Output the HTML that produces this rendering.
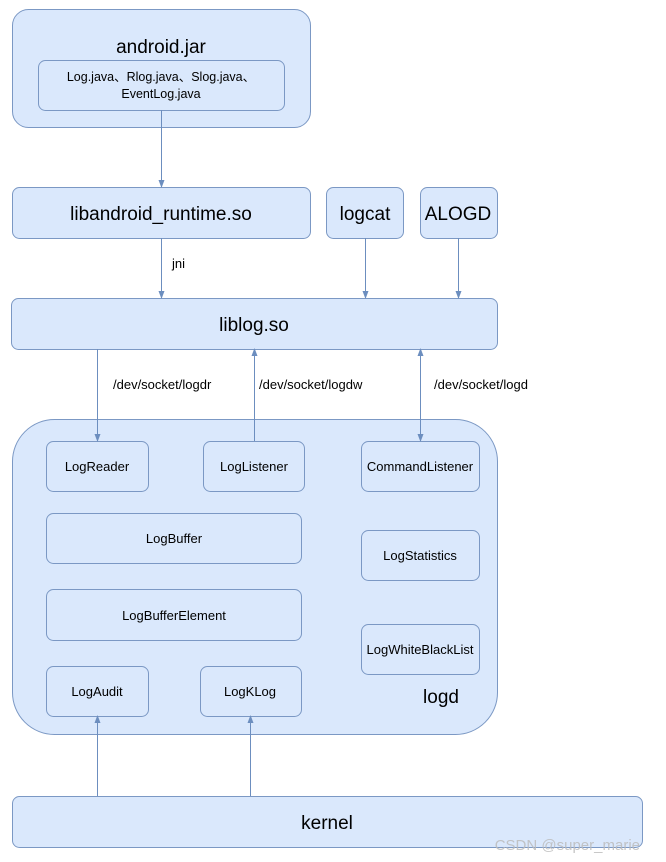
<!DOCTYPE html>
<html><head><meta charset="utf-8"><style>html,body{margin:0;padding:0;background:#fff}svg{display:block}</style></head>
<body>
<svg width="666" height="862" viewBox="0 0 666 862" xmlns="http://www.w3.org/2000/svg" font-family="'Liberation Sans','Noto Sans CJK SC',sans-serif">
<defs><marker id="a" markerWidth="8" markerHeight="8" refX="7" refY="4" orient="auto-start-reverse" markerUnits="userSpaceOnUse"><path d="M0,1 L8,4 L0,7 Z" fill="#6c8ebf"/></marker></defs>
<g fill="#dae8fc" stroke="#7b98c4" stroke-width="1">
<rect x="12.5" y="9.5" width="298" height="118" rx="16"/>
<rect x="38.5" y="60.5" width="246" height="50" rx="7"/>
<rect x="12.5" y="187.5" width="298" height="51" rx="7"/>
<rect x="326.5" y="187.5" width="77" height="51" rx="7"/>
<rect x="420.5" y="187.5" width="77" height="51" rx="7"/>
<rect x="11.5" y="298.5" width="486" height="51" rx="7"/>
<rect x="12.5" y="419.5" width="485" height="315" rx="42"/>
<rect x="46.5" y="441.5" width="102" height="50" rx="7"/>
<rect x="203.5" y="441.5" width="101" height="50" rx="7"/>
<rect x="361.5" y="441.5" width="118" height="50" rx="7"/>
<rect x="46.5" y="513.5" width="255" height="50" rx="7"/>
<rect x="361.5" y="530.5" width="118" height="50" rx="7"/>
<rect x="46.5" y="589.5" width="255" height="51" rx="7"/>
<rect x="361.5" y="624.5" width="118" height="50" rx="7"/>
<rect x="46.5" y="666.5" width="102" height="50" rx="7"/>
<rect x="200.5" y="666.5" width="101" height="50" rx="7"/>
<rect x="12.5" y="796.5" width="630" height="51" rx="7"/>
</g>
<g stroke="#6c8ebf" stroke-width="1" fill="none">
<line x1="161.5" y1="110" x2="161.5" y2="187" marker-end="url(#a)"/>
<line x1="161.5" y1="238" x2="161.5" y2="298" marker-end="url(#a)"/>
<line x1="365.5" y1="238" x2="365.5" y2="298" marker-end="url(#a)"/>
<line x1="458.5" y1="238" x2="458.5" y2="298" marker-end="url(#a)"/>
<line x1="97.5" y1="349" x2="97.5" y2="441" marker-end="url(#a)"/>
<line x1="254.5" y1="441" x2="254.5" y2="349" marker-end="url(#a)"/>
<line x1="420.5" y1="349" x2="420.5" y2="441" marker-end="url(#a)" marker-start="url(#a)"/>
<line x1="97.5" y1="796" x2="97.5" y2="716" marker-end="url(#a)"/>
<line x1="250.5" y1="796" x2="250.5" y2="716" marker-end="url(#a)"/>
</g>
<g fill="#000" text-anchor="middle">
<text x="161" y="53" font-size="19">android.jar</text>
<text x="161" y="81" font-size="12.5">Log.java、Rlog.java、Slog.java、</text>
<text x="161" y="98" font-size="12.5">EventLog.java</text>
<text x="161" y="220" font-size="19">libandroid_runtime.so</text>
<text x="365" y="220" font-size="19">logcat</text>
<text x="458" y="220" font-size="19">ALOGD</text>
<text x="254" y="331" font-size="19">liblog.so</text>
<text x="97" y="471" font-size="13">LogReader</text>
<text x="254" y="471" font-size="13">LogListener</text>
<text x="420" y="471" font-size="13">CommandListener</text>
<text x="174" y="543" font-size="13">LogBuffer</text>
<text x="420" y="560" font-size="13">LogStatistics</text>
<text x="174" y="620" font-size="13">LogBufferElement</text>
<text x="420" y="654" font-size="13">LogWhiteBlackList</text>
<text x="97" y="696" font-size="13">LogAudit</text>
<text x="250" y="696" font-size="13">LogKLog</text>
<text x="441" y="703" font-size="19">logd</text>
<text x="327" y="829" font-size="19">kernel</text>
</g>
<g fill="#000" font-size="13">
<text x="172" y="268">jni</text>
<text x="113" y="389">/dev/socket/logdr</text>
<text x="259" y="389">/dev/socket/logdw</text>
<text x="434" y="389">/dev/socket/logd</text>
</g>
<text x="640" y="850" font-size="15" fill="#bbb" fill-opacity="0.85" text-anchor="end">CSDN @super_marie</text>
</svg>
</body></html>
